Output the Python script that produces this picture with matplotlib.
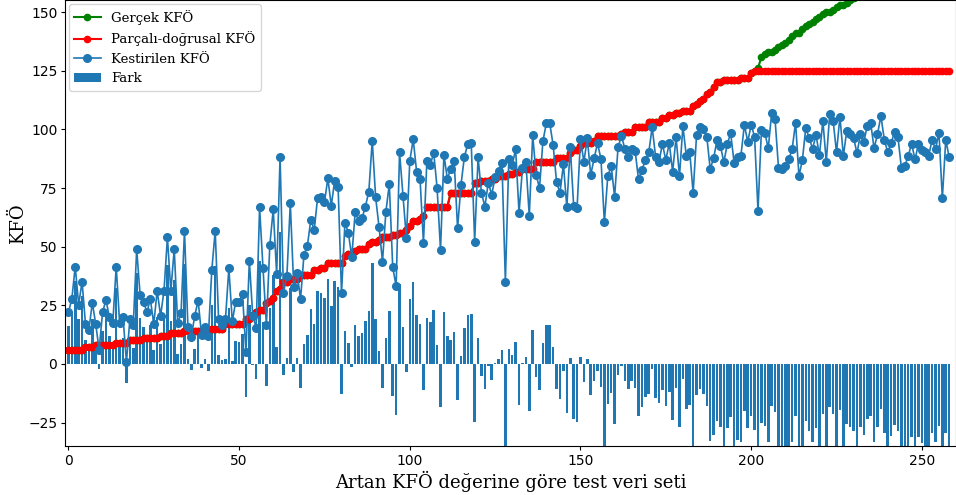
import numpy as np
import matplotlib
matplotlib.use("Agg")
import matplotlib.pyplot as plt

# True RUL (Gerçek KFÖ), sorted ascending
gercek = [
    6, 6, 6, 6, 6, 7, 7, 7, 8, 8, 8, 8, 8, 8, 9, 9, 9, 9, 10, 10,
    10, 10, 11, 11, 11, 11, 11, 12, 12, 12, 13, 13, 13, 13, 14, 14, 14, 14, 14, 14,
    14, 15, 15, 15, 15, 15, 17, 17, 17, 17, 17, 17, 19, 19, 21, 22, 23, 23, 26, 27,
    28, 31, 32, 35, 35, 36, 36, 36, 38, 38, 38, 38, 40, 40, 41, 41, 43, 43, 43, 43,
    43, 46, 47, 47, 48, 49, 49, 49, 51, 52, 52, 53, 54, 54, 54, 55, 55, 56, 56, 57,
    59, 61, 61, 62, 63, 67, 67, 67, 67, 67, 67, 67, 73, 73, 73, 73, 73, 73, 73, 77,
    77, 78, 78, 78, 79, 79, 80, 80, 80, 81, 81, 82, 82, 83, 83, 83, 83, 86, 86, 86,
    86, 86, 86, 88, 88, 88, 88, 90, 91, 91, 93, 94, 94, 94, 95, 97, 97, 97, 97, 97,
    97, 97, 98, 99, 99, 99, 101, 101, 101, 101, 103, 103, 103, 103, 105, 105, 106, 106, 107, 107,
    108, 108, 108, 110, 111, 112, 113, 115, 116, 118, 120, 120, 121, 121, 121, 121, 121, 122, 122, 122,
    124, 125, 126, 131, 132, 133, 133, 134, 135, 136, 137, 138, 140, 141, 141, 143, 144, 145, 146, 147,
    148, 149, 150, 150, 151, 152, 153, 153, 154, 155, 156, 157, 158, 159, 160, 160, 161, 162, 163, 164,
    165, 166, 166, 167, 168, 169, 170, 171, 172, 172, 173, 174, 175, 176, 177, 178, 179, 180, 181,
]

# Predicted RUL (Kestirilen KFÖ)
kestirilen = [
    22.0, 27.7, 41.5, 25.2, 35.1, 17.0, 14.5, 26.1, 17.0, 6.0,
    22.0, 27.3, 19.9, 17.4, 41.5, 17.4, 19.9, 0.8, 19.0, 16.6,
    48.9, 29.4, 26.6, 22.0, 27.7, 17.0, 31.2, 20.5, 31.2, 54.0,
    31.2, 48.9, 17.4, 21.6, 56.8, 15.9, 11.6, 20.5, 27.0, 12.4,
    15.9, 12.0, 40.0, 56.7, 19.0, 16.6, 19.0, 40.8, 18.1, 26.6,
    26.3, 29.8, 5.0, 44.0, 20.5, 15.5, 66.8, 40.8, 16.6, 50.7,
    65.9, 38.2, 88.1, 30.4, 37.5, 68.5, 32.7, 38.7, 27.7, 46.5,
    50.4, 61.4, 57.1, 70.9, 71.3, 68.9, 79.1, 67.5, 78.2, 75.6,
    30.1, 60.2, 56.0, 45.5, 64.7, 61.1, 62.1, 67.1, 73.5, 95.2,
    71.0, 58.3, 43.6, 64.9, 76.7, 41.2, 33.2, 90.2, 71.7, 53.6,
    86.5, 95.8, 81.9, 79.0, 51.7, 86.5, 84.8, 90.1, 75.0, 48.6,
    89.1, 79.0, 83.1, 86.5, 57.8, 76.4, 88.4, 93.8, 94.1, 52.1,
    88.2, 72.8, 67.1, 77.3, 72.2, 79.6, 82.3, 85.8, 35.1, 87.2,
    84.8, 91.5, 64.5, 83.4, 86.1, 63.1, 97.6, 80.6, 75.0, 95.1,
    102.6, 102.6, 93.2, 77.4, 73.0, 85.1, 66.9, 92.6, 67.5, 66.4,
    95.8, 86.2, 96.2, 80.6, 87.7, 94.1, 87.3, 60.4, 80.1, 84.4,
    71.3, 92.4, 97.2, 91.8, 88.2, 91.8, 90.9, 78.7, 82.7, 86.8,
    90.2, 100.9, 88.4, 86.2, 93.8, 86.9, 94.1, 82.0, 96.6, 80.1,
    101.4, 88.7, 90.5, 72.8, 97.6, 101.2, 100.2, 96.9, 83.1, 87.7,
    95.5, 92.9, 86.0, 93.8, 98.3, 85.8, 88.4, 88.8, 101.9, 94.8,
    101.9, 96.9, 65.4, 99.7, 98.6, 91.9, 106.9, 104.3, 83.7, 83.3,
    84.4, 87.2, 91.5, 102.9, 80.1, 86.9, 100.7, 96.2, 91.8, 97.6,
    88.9, 103.7, 86.2, 106.6, 103.7, 90.2, 105.4, 88.7, 99.4, 97.9,
    96.5, 89.8, 97.9, 94.5, 101.6, 102.9, 91.9, 97.9, 105.7, 95.6,
    90.2, 94.1, 99.0, 96.6, 83.7, 84.4, 88.8, 93.8, 87.2, 93.8,
    91.1, 90.2, 88.8, 95.5, 91.5, 98.6, 70.6, 95.5, 88.2,
]

kfo_ust_sinir = 125
x_ticks = [0, 50, 100, 150, 200, 250]
y_ticks = [-25, 0, 25, 50, 75, 100, 125, 150]

gercek_arr = np.array(gercek, dtype=float)
kest_arr = np.array(kestirilen, dtype=float)
parcali = np.minimum(gercek_arr, kfo_ust_sinir)
fark = kest_arr - parcali
idx = np.arange(len(gercek_arr))

fig = plt.figure(figsize=(9.56, 4.95), dpi=100)
ax = fig.add_axes([65 / 956, 49 / 495, 891 / 956, 445.6 / 495])

serif = "DejaVu Serif"
ax.plot(idx, gercek_arr, color="green", marker="o", markersize=4.5, linewidth=1.5, label="Gerçek KFÖ")
ax.plot(idx, parcali, color="red", marker="o", markersize=4.5, linewidth=1.5, label="Parçalı-doğrusal KFÖ")
ax.plot(idx, kest_arr, color="#1f77b4", marker="o", markersize=5.5, linewidth=1.2, label="Kestirilen KFÖ")
ax.bar(idx, fark, width=0.75, color="#1f77b4", label="Fark")

ax.set_xlim(-1, 260)
ax.set_ylim(-35, 155)
ax.set_xticks(x_ticks)
ax.set_yticks(y_ticks)
ax.tick_params(labelsize=10, length=3, pad=2.5)
ax.set_xlabel("Artan KFÖ değerine göre test veri seti", fontsize=13, family=serif, labelpad=2)
ax.set_ylabel("KFÖ", fontsize=13, family=serif, labelpad=1)
ax.legend(loc="upper left", prop={"family": serif, "size": 9.5}, borderaxespad=0.3)

fig.savefig("out.png", dpi=100)
